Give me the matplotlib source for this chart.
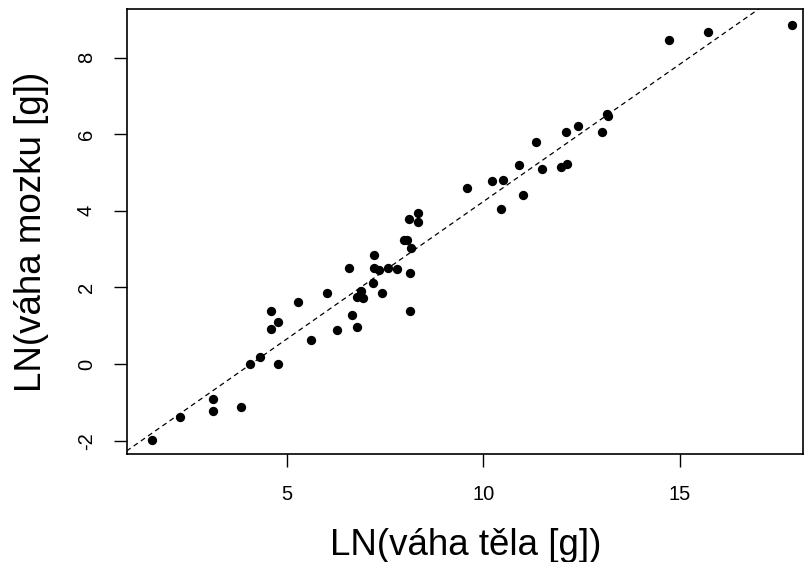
import numpy as np
import matplotlib
matplotlib.use('Agg')
import matplotlib.pyplot as plt

# ln(body weight [g]) and ln(brain weight [g])
ln_body = [1.56, 2.28, 3.12, 3.12, 3.83, 4.07, 4.30, 4.77, 4.60, 4.60,
           4.77, 5.27, 5.60, 6.01, 6.27, 6.57, 6.66, 6.79, 6.79, 6.89,
           6.93, 7.20, 7.22, 7.22, 7.35, 7.43, 7.56, 7.80, 7.97, 8.06,
           8.17, 8.14, 8.14, 8.10, 8.34, 8.34, 9.58, 10.22, 10.50, 10.46,
           10.90, 11.00, 11.33, 11.50, 11.97, 12.14, 12.10, 12.41, 13.02, 13.15,
           13.18, 14.73, 15.71, 17.87]
ln_brain = [-1.98, -1.39, -0.91, -1.22, -1.11, -0.01, 0.19, -0.01, 1.38, 0.92,
            1.10, 1.62, 0.64, 1.86, 0.89, 2.52, 1.27, 0.96, 1.76, 1.90,
            1.72, 2.11, 2.86, 2.52, 2.45, 1.86, 2.52, 2.49, 3.25, 3.25,
            3.04, 2.38, 1.38, 3.80, 3.94, 3.70, 4.60, 4.77, 4.80, 4.04,
            5.19, 4.42, 5.80, 5.08, 5.15, 5.22, 6.05, 6.22, 6.05, 6.52,
            6.47, 8.47, 8.68, 8.85]

x_ticks = [5, 10, 15]
y_ticks = [-2, 0, 2, 4, 6, 8]

plt.rcParams['font.family'] = ['Liberation Sans', 'DejaVu Sans']

fig = plt.figure(figsize=(8.05, 5.62), dpi=100)
ax = fig.add_axes([0.158, 0.192, 0.840, 0.792])

# points
ax.scatter(ln_body, ln_brain, s=45, color='black', linewidths=0, zorder=3)

# regression line
slope, intercept = np.polyfit(ln_body, ln_brain, 1)
xs = np.array([0, 20])
ax.plot(xs, intercept + slope * xs, color='black', linestyle=(0, (4, 3)),
        linewidth=0.9)

ax.set_xlim(0.93, 18.15)
ax.set_ylim(-2.35, 9.27)
ax.set_xticks(x_ticks)
ax.set_yticks(y_ticks)
ax.set_yticklabels([str(v) for v in y_ticks], rotation=90, va='center')
ax.tick_params(direction='out', length=9.5, width=1, labelsize=14.5, pad=13)

for s in ax.spines.values():
    s.set_linewidth(1.2)

ax.set_xlabel('LN(váha těla [g])', fontsize=26.5, labelpad=17)
ax.set_ylabel('LN(váha mozku [g])', fontsize=26.5, labelpad=20)

fig.savefig('out.png', dpi=100)
